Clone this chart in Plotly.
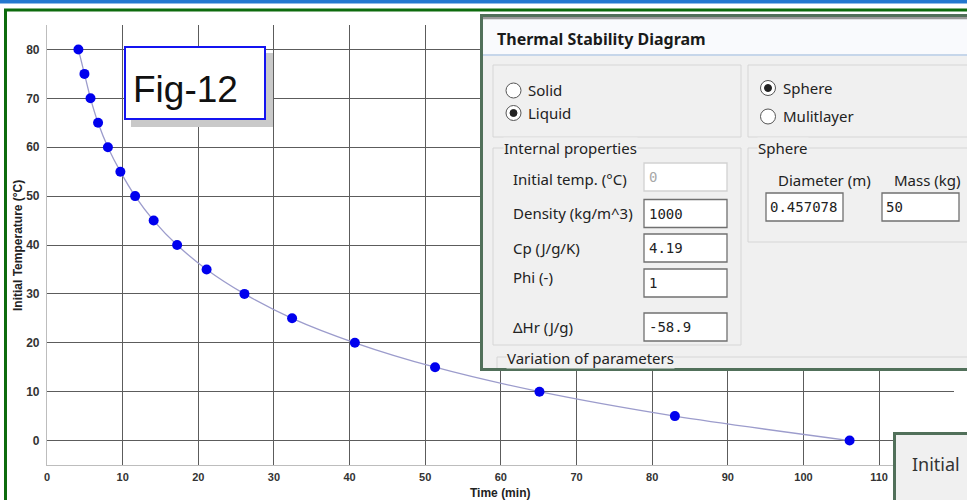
import plotly.graph_objects as go

# ---------------- data ----------------
time_min = [4.15, 4.95, 5.75, 6.75, 8.05, 9.7, 11.65, 14.1, 17.2, 21.1, 26.1, 32.4, 40.7, 51.3, 65.1, 83.0, 106.1]
init_temp = [80, 75, 70, 65, 60, 55, 50, 45, 40, 35, 30, 25, 20, 15, 10, 5, 0]
x_ticks = [0, 10, 20, 30, 40, 50, 60, 70, 80, 90, 100, 110]
y_ticks = [0, 10, 20, 30, 40, 50, 60, 70, 80]
x_title = "Time (min)"
y_title = "Initial Temperature (°C)"
fig_label = "Fig-12"
dialog_title = "Thermal Stability Diagram"
form_labels = ["Initial temp. (°C)", "Density (kg/m^3)", "Cp (J/g/K)", "Phi (-)", "ΔHr (J/g)"]
form_values = ["0", "1000", "4.19", "1", "-58.9"]
sphere_labels = ["Diameter (m)", "Mass (kg)"]
sphere_values = ["0.457078", "50"]

# ---------------- geometry (pixels) ----------------
FW, FH = 967, 500
L, R, T, B = 47, 954, 25, 465
PW, PH = R - L, B - T
UI = "Noto Sans"
MONO = "DejaVu Sans Mono"


def px(x):
    return (x - L) / PW


def py(y):
    return (B - y) / PH


shapes = []
annots = []


def rect(x0, y0, x1, y1, fill=None, line=None, lw=1):
    shapes.append(dict(type="rect", xref="paper", yref="paper", layer="above",
                       x0=px(x0), x1=px(x1), y0=py(y1), y1=py(y0),
                       fillcolor=fill if fill else "rgba(0,0,0,0)",
                       line=dict(color=line if line else "rgba(0,0,0,0)", width=lw if line else 0)))


def seg(x0, y0, x1, y1, color, lw=1):
    shapes.append(dict(type="line", xref="paper", yref="paper", layer="above",
                       x0=px(x0), x1=px(x1), y0=py(y0), y1=py(y1),
                       line=dict(color=color, width=lw)))


def circle(cx, cy, r, fill, line, lw=1):
    shapes.append(dict(type="circle", xref="paper", yref="paper", layer="above",
                       x0=px(cx - r), x1=px(cx + r), y0=py(cy + r), y1=py(cy - r),
                       fillcolor=fill, line=dict(color=line, width=lw)))


def text(x, y, s, size=15, color="#222", family=UI, bold=False, anchor="left", bg=None, angle=0):
    a = dict(xref="paper", yref="paper", x=px(x), y=py(y), showarrow=False,
             text=("<b>%s</b>" % s) if bold else s, xanchor=anchor, yanchor="middle",
             font=dict(size=size, color=color, family=family), textangle=angle, borderpad=0)
    if bg:
        a["bgcolor"] = bg
    annots.append(a)


# outer frame
rect(0, 0, 967, 3.5, fill="#2478cf")
rect(5.5, 10, 990, 520, line="#0d6b0d", lw=3)

# Fig-12 label box
rect(131, 53, 273, 127, fill="#c9c9c9")
rect(125, 47, 265, 119, fill="white", line="#1414f0", lw=2)
text(132, 89, fig_label, size=37, color="#111", family="Liberation Sans")

# dialog window
rect(481.5, 15.5, 990, 369.5, fill="#f0f0f0", line="#51705a", lw=3)
rect(483, 17, 990, 19.5, fill="#9a9a9a")
rect(483, 19.5, 990, 54, fill="#f9fafd")
rect(483, 54, 990, 56, fill="#c6d6ea")
text(496, 39, dialog_title, size=16, bold=True, color="#1a1a1a")

# group boxes
rect(493, 65, 741, 137, line="#d6d6d6", lw=1)
rect(748, 65, 990, 137, line="#d6d6d6", lw=1)
rect(493, 148, 741, 345, line="#d6d6d6", lw=1)
rect(748, 148, 990, 242, line="#d6d6d6", lw=1)
seg(497, 357, 967, 357, "#d6d6d6")
seg(497, 357, 497, 368, "#d6d6d6")

# radio buttons
circle(513.5, 90.5, 7.5, "white", "#555")
text(527, 90, "Solid")
circle(513.5, 113, 7.5, "white", "#555")
circle(513.5, 113, 3.5, "#222", "#222")
text(527, 113, "Liquid")
circle(768, 88, 7.5, "white", "#555")
circle(768, 88, 3.5, "#222", "#222")
text(782, 88, "Sphere")
circle(768, 116.5, 7.5, "white", "#555")
text(782, 116, "Mulitlayer")

# group labels
text(503, 148, "Internal properties", bg="#f0f0f0")
text(757, 148, "Sphere", bg="#f0f0f0")
text(506, 358, "Variation of parameters", bg="#f0f0f0")

# form rows
row_y = [177, 213.5, 248, 283, 327]
lab_y = [179, 213, 248, 277, 327]
for i, (lab, val) in enumerate(zip(form_labels, form_values)):
    cy = row_y[i]
    disabled = i == 0
    rect(644, cy - 14, 727, cy + 14, fill="white", line="#d2d2d2" if disabled else "#707070", lw=1.3)
    text(648, cy, val, size=14, family=MONO, color="#a8a8a8" if disabled else "#222")
    text(512, lab_y[i], lab)

# sphere inputs
sx = [766, 882]
lx = [777, 893]
for i in range(2):
    text(lx[i], 180, sphere_labels[i])
    rect(sx[i], 193, sx[i] + 77, 221, fill="white", line="#707070", lw=1.3)
    text(sx[i] + 3, 207, sphere_values[i], size=14, family=MONO)

# bottom-right window fragment
rect(894.5, 433.5, 990, 520, fill="#f0f0f0", line="#51705a", lw=3)
text(911, 464, "Initial", size=18, color="#333")

# axis titles
text(500, 492.5, x_title, size=12, bold=True, color="#222", family="Liberation Sans", anchor="center")
text(18, 246, y_title, size=12, bold=True, color="#222", family="Liberation Sans", anchor="center", angle=-90)

# ---------------- figure ----------------
fig = go.Figure()
fig.add_trace(go.Scatter(
    x=time_min, y=init_temp, mode="lines+markers",
    line=dict(color="#9c9ccc", width=1.3, shape="spline", smoothing=0.8),
    marker=dict(color="#0000ee", size=10, line=dict(width=0)),
    hoverinfo="skip", showlegend=False))

fig.update_layout(
    width=FW, height=FH,
    margin=dict(l=L, r=FW - R, t=T, b=FH - B),
    paper_bgcolor="white", plot_bgcolor="white",
    shapes=shapes, annotations=annots,
    hovermode=False,
)
fig.update_xaxes(range=[0, 119.9], tickvals=x_ticks, ticktext=[str(v) for v in x_ticks],
                 showgrid=True, gridcolor="#5c5c5c", gridwidth=1.1, zeroline=False,
                 showline=True, linecolor="#bdbdbd", linewidth=1.2,
                 tickfont=dict(size=11, color="#333", family="Liberation Sans", weight="bold"),
                 ticks="", ticklabelstandoff=2)
fig.update_yaxes(range=[-5, 85], tickvals=y_ticks, ticktext=[str(v) for v in y_ticks],
                 showgrid=True, gridcolor="#5c5c5c", gridwidth=1.1, zeroline=False,
                 showline=True, linecolor="#bdbdbd", linewidth=1.2,
                 tickfont=dict(size=12, color="#333", family="Liberation Sans", weight="bold"),
                 ticks="", ticklabelstandoff=4)

fig.write_html("out.html", config={"displayModeBar": False},
               post_script="document.body.style.margin='0';document.body.style.overflow='hidden';")
